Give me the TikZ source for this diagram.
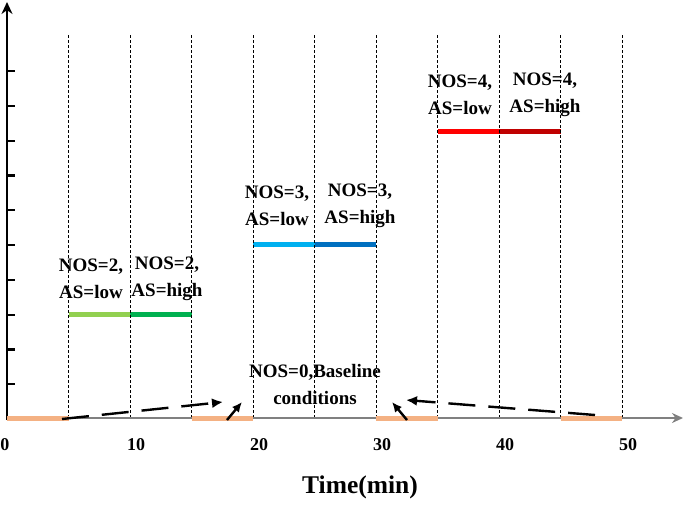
\documentclass[tikz,border=0pt]{standalone}
\usepackage{fontspec}
\setmainfont{Liberation Serif}
\usetikzlibrary{arrows.meta}
\definecolor{orangeL}{RGB}{244,177,131}
\definecolor{greenL}{RGB}{146,208,80}
\definecolor{greenD}{RGB}{0,176,80}
\definecolor{blueL}{RGB}{0,176,240}
\definecolor{blueD}{RGB}{0,112,192}
\definecolor{redL}{RGB}{255,0,0}
\definecolor{redD}{RGB}{192,0,0}
\definecolor{axisgray}{RGB}{128,128,128}
\begin{document}
\begin{tikzpicture}[x=1pt,y=-1pt,
  gridline/.style={black, line width=0.8pt, dash pattern=on 3pt off 2pt},
  seg/.style={line width=5pt},
  lbl/.style={font=\fontsize{19}{27}\selectfont\bfseries, align=center, inner sep=0pt},
  ticklbl/.style={font=\fontsize{18}{20}\selectfont\bfseries, inner sep=0pt},
  longarrow/.style={black, line width=2.4pt, dash pattern=on 27pt off 13pt, -{Latex[length=11pt,width=10pt]}},
  shortarrow/.style={black, line width=2.4pt, -{Latex[length=10pt,width=9pt]}}]
\useasboundingbox (0,0) rectangle (685,506);

% time grid coordinates (x = 7 + 12.3 t)
\foreach \t in {0,5,...,50}{
  \coordinate (g\t) at ({7+12.3*\t},418);
}

% colored segments
\draw[seg, greenL] (68.5,314) -- (130,314);
\draw[seg, greenD] (130,314) -- (191.5,314);
\draw[seg, blueL] (253,244) -- (314.5,244);
\draw[seg, blueD] (314.5,244) -- (376,244);
\draw[seg, redL] (437.5,131) -- (499,131);
\draw[seg, redD] (499,131) -- (560.5,131);

% dashed vertical lines
\foreach \t in {5,10,...,50}{
  \draw[gridline] ({7+12.3*\t},35) -- (g\t);
}

% axes
\draw[axisgray, line width=2.4pt, -{Stealth[length=11pt,width=10pt]}] (6,418) -- (683,418);
\draw[black, line width=2.6pt, -{Stealth[length=12pt,width=11pt]}] (7,420) -- (7,2);
\foreach \y in {71,105.8,...,385}{
  \draw[black, line width=2.2pt] (7,\y) -- (15,\y);
}

% orange baseline segments
\draw[seg, orangeL] (7,418) -- (g5);
\draw[seg, orangeL] (g15) -- (g20);
\draw[seg, orangeL] (g30) -- (g35);
\draw[seg, orangeL] (g45) -- (g50);

% tick labels
\node[ticklbl] (t0) at (5,445) {0};
\node[ticklbl] (t10) at (136,445) {10};
\node[ticklbl] (t20) at (259,445) {20};
\node[ticklbl] (t30) at (382,445) {30};
\node[ticklbl] (t40) at (505,445) {40};
\node[ticklbl] (t50) at (628,445) {50};
\node[font=\fontsize{25.5}{28}\selectfont\bfseries, inner sep=0pt] (xlabel) at (360,487) {Time(min)};

% labels
\node[lbl] (n2l) at (91,279) {NOS=2,\\AS=low};
\node[lbl] (n2h) at (167,279) {NOS=2,\\AS=high};
\node[lbl] (n3l) at (277,206) {NOS=3,\\AS=low};
\node[lbl] (n3h) at (360,206) {NOS=3,\\AS=high};
\node[lbl] (n4l) at (460,95) {NOS=4,\\AS=low};
\node[lbl] (n4h) at (545,95) {NOS=4,\\AS=high};
\node[lbl] (n0) at (315,384) {NOS=0,Baseline\\conditions};

% arrows
\coordinate (a1s) at (62,419);
\coordinate (a1e) at (223,402);
\coordinate (a2s) at (227,420);
\coordinate (a2e) at (242,402);
\coordinate (a3s) at (407,420);
\coordinate (a3e) at (392,402);
\coordinate (a4s) at (595,415);
\coordinate (a4e) at (406,400);
\draw[longarrow] (a1s) -- (a1e);
\draw[shortarrow] (a2s) -- (a2e);
\draw[shortarrow] (a3s) -- (a3e);
\draw[longarrow] (a4s) -- (a4e);
\end{tikzpicture}
\end{document}
